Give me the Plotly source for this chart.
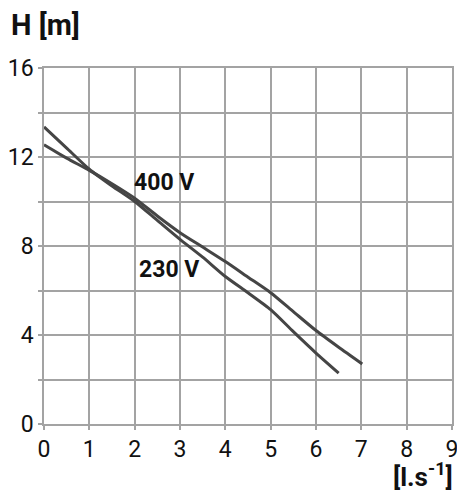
import plotly.graph_objects as go

# Data
q_230 = [0, 0.5, 1, 1.5, 2, 2.5, 3, 3.5, 4, 4.5, 5, 5.5, 6, 6.5]
h_230 = [13.35, 12.4, 11.45, 10.7, 10.0, 9.15, 8.3, 7.5, 6.63, 5.9, 5.14, 4.15, 3.19, 2.29]

q_400 = [0, 0.5, 1, 1.5, 2, 2.5, 3, 3.5, 4, 4.5, 5, 5.5, 6, 6.5, 7.02]
h_400 = [12.55, 11.95, 11.4, 10.8, 10.15, 9.35, 8.6, 7.95, 7.3, 6.6, 5.9, 5.05, 4.2, 3.45, 2.7]

x_ticks = [0, 1, 2, 3, 4, 5, 6, 7, 8, 9]
y_ticks = [0, 2, 4, 6, 8, 10, 12, 14, 16]
y_ticktext = ["0", "", "4", "", "8", "", "12", "", "16"]

series_labels = ["230 V", "400 V"]
label_pos = [(2.76, 6.93), (2.65, 10.85)]

FONT = "Roboto, Liberation Sans Narrow, sans-serif"
LINE_COLOR = "#454545"
GRID = "#a3a3a3"

fig = go.Figure()
fig.add_trace(go.Scatter(x=q_230, y=h_230, mode="lines", line=dict(color=LINE_COLOR, width=3, shape="spline", smoothing=0.6), showlegend=False, hoverinfo="skip"))
fig.add_trace(go.Scatter(x=q_400, y=h_400, mode="lines", line=dict(color=LINE_COLOR, width=3, shape="spline", smoothing=0.6), showlegend=False, hoverinfo="skip"))

for text, (lx, ly) in zip(series_labels, label_pos):
    fig.add_annotation(x=lx, y=ly, text=f"<b>{text}</b>", showarrow=False,
                       font=dict(family=FONT, size=23, color="#111111"))

fig.add_annotation(xref="paper", yref="paper", x=0, y=1, xanchor="left", yanchor="middle",
                   xshift=-35, yshift=43, text="<b>H [m]</b>", showarrow=False,
                   font=dict(family=FONT, size=29, color="#111111"))
fig.add_annotation(xref="paper", yref="paper", x=1, y=0, xanchor="right", yanchor="middle",
                   xshift=3, yshift=-51, text="<b>[l.s<sup>-1</sup>]</b>", showarrow=False,
                   font=dict(family=FONT, size=26, color="#111111"))

axis_common = dict(showgrid=True, gridcolor=GRID, gridwidth=1.5, zeroline=False,
                   showline=True, linecolor=GRID, linewidth=1.5, mirror=True,
                   ticks="outside", ticklen=4, tickcolor=GRID, tickwidth=1.5,
                   automargin=False, ticklabeloverflow="allow",
                   tickfont=dict(family=FONT, size=23, color="#111111"))

fig.update_xaxes(range=[0, 9], tickvals=x_ticks, ticktext=[str(v) for v in x_ticks], ticklabelstandoff=0, **axis_common)
fig.update_yaxes(range=[0, 16], tickvals=y_ticks, ticktext=y_ticktext, **axis_common)

fig.update_layout(width=457, height=492, margin=dict(l=44, r=5, t=68, b=68),
                  plot_bgcolor="white", paper_bgcolor="white", hovermode=False)

fig.write_html("out.html", config={"displayModeBar": False},
               post_script="document.body.style.margin='0';document.body.style.overflow='hidden';")
